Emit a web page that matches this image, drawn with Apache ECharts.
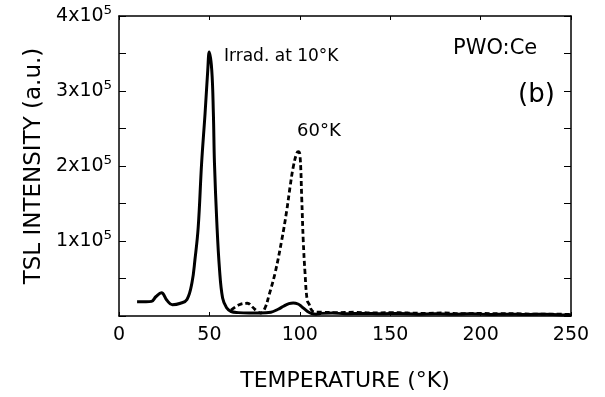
<!DOCTYPE html>
<html>
<head>
<meta charset="utf-8">
<script src="https://cdn.jsdelivr.net/npm/echarts@6/dist/echarts.min.js"></script>
<style>
  html, body { margin: 0; padding: 0; background: #fff; }
  #chart { width: 605px; height: 397px; }
</style>
</head>
<body>
<div id="chart"></div>
<script>
// 10°K 照射曲线（实线）
const temp10 = [10, 15, 18, 20.5, 23.5, 26.5, 29.5, 34, 37.6, 40.4, 42, 43.8, 45.7, 47.6, 49.1, 49.9, 51.3, 52.2, 52.8, 54.1, 55.6, 57.3, 59.5, 62, 66, 72, 78, 84, 88, 91, 94, 96.4, 99, 101, 103, 105, 107, 109, 112, 118, 125, 135, 145, 155, 165, 175, 185, 195, 205, 215, 225, 235, 245, 250]
const tsl10 = [19000, 19000, 19500, 26000, 31000, 21000, 15000, 17000, 22000, 45000, 75000, 118000, 204000, 270000, 328000, 352000, 328000, 270000, 204000, 125000, 62000, 24000, 11000, 6000, 4500, 4000, 4000, 5000, 9000, 13000, 16500, 17500, 16000, 12500, 8500, 5000, 3000, 2500, 3500, 4000, 3000, 3500, 3000, 3500, 2500, 3000, 2500, 3000, 2000, 2500, 2000, 2500, 1500, 1500]

// 60°K 照射曲线（虚线）
const temp60 = [62, 66.5, 71, 73.8, 76.5, 78.5, 80.8, 83, 86.3, 90, 92.8, 94.6, 96.4, 98.3, 99.2, 100.1, 101.1, 101.9, 102.9, 104.1, 105.3, 106.5, 108.5, 112, 120, 130, 140, 150, 160, 170, 180, 190, 200, 210, 220, 230, 240, 250]
const tsl60 = [8000, 15000, 17000, 12000, 6000, 4000, 11000, 28000, 57000, 101000, 141000, 172000, 199000, 217000, 219000, 215000, 155000, 101000, 57000, 21000, 15000, 8000, 5000, 5000, 4500, 5000, 4000, 4500, 4000, 3500, 4000, 3000, 3500, 3000, 3000, 2500, 2500, 2000]

// 坐标轴刻度
const xTicks = [0, 50, 100, 150, 200, 250]
const yTickValues = [100000, 200000, 300000, 400000]
const yTickMantissa = ['1', '2', '3', '4']

const FONT = 'DejaVu Sans'

const zip = (xs, ys) => xs.map((x, i) => [x, ys[i]])

// 四周边框：每根轴都画线，且不贴到零点
const frameAxis = {
  axisLine: { show: true, onZero: false, lineStyle: { color: '#000', width: 1.5 } },
  splitLine: { show: false }
}

const chart = echarts.init(document.getElementById('chart'))

const option = {
  animation: false,
  backgroundColor: '#fff',
  grid: { left: 119, right: 34, top: 16, bottom: 81, containLabel: false },
  xAxis: [
    {
      ...frameAxis,
      type: 'value',
      min: xTicks[0],
      max: xTicks[xTicks.length - 1],
      interval: 50,
      name: 'TEMPERATURE (°K)',
      nameLocation: 'middle',
      nameGap: 54,
      nameTextStyle: { fontFamily: FONT, fontSize: 22, color: '#000' },
      axisTick: { show: true, inside: true, length: 4, lineStyle: { color: '#000' } },
      axisLabel: { fontFamily: FONT, fontSize: 19, color: '#000', margin: 10 }
    },
    {
      ...frameAxis,
      type: 'value',
      position: 'top',
      min: 0,
      max: 250,
      interval: 50,
      axisTick: { show: true, inside: true, length: 4, lineStyle: { color: '#000' } },
      axisLabel: { show: false }
    }
  ],
  yAxis: [
    {
      ...frameAxis,
      type: 'value',
      min: 0,
      max: 400000,
      interval: 50000,
      name: 'TSL INTENSITY (a.u.)',
      nameLocation: 'middle',
      nameGap: 72,
      nameTextStyle: { fontFamily: FONT, fontSize: 23, color: '#000' },
      axisTick: { show: true, inside: true, length: 7, lineStyle: { color: '#000' } },
      axisLabel: {
        margin: 7,
        formatter: v => {
          const i = yTickValues.indexOf(v)
          return i < 0 ? '' : '{a|' + yTickMantissa[i] + 'x10}{s|⁵}'
        },
        rich: {
          a: { fontFamily: FONT, fontSize: 19, color: '#000', lineHeight: 24 },
          s: { fontFamily: FONT, fontSize: 21, color: '#000', lineHeight: 24 }
        }
      }
    },
    {
      ...frameAxis,
      type: 'value',
      position: 'right',
      min: 0,
      max: 400000,
      interval: 50000,
      axisTick: { show: true, inside: true, length: 7, lineStyle: { color: '#000' } },
      axisLabel: { show: false }
    }
  ],
  series: [
    {
      name: 'Irrad. at 10°K',
      type: 'line',
      data: zip(temp10, tsl10),
      showSymbol: false,
      smooth: 0.4,
      lineStyle: { color: '#000', width: 3 },
      z: 3
    },
    {
      name: '60°K',
      type: 'line',
      data: zip(temp60, tsl60),
      showSymbol: false,
      smooth: 0.4,
      lineStyle: { color: '#000', width: 2.8, type: [5, 3] },
      z: 2
    }
  ],
  graphic: [
    { type: 'text', left: 224, top: 48, style: { text: 'Irrad. at 10°K', font: '17px "DejaVu Sans"', fill: '#000' } },
    { type: 'text', left: 297, top: 122, style: { text: '60°K', font: '18px "DejaVu Sans"', fill: '#000' } },
    { type: 'text', left: 453, top: 38, style: { text: 'PWO:Ce', font: '21px "DejaVu Sans"', fill: '#000' } },
    { type: 'text', left: 518, top: 82, style: { text: '(b)', font: '26px "DejaVu Sans"', fill: '#000' } }
  ]
}

chart.setOption(option)
</script>
</body>
</html>
